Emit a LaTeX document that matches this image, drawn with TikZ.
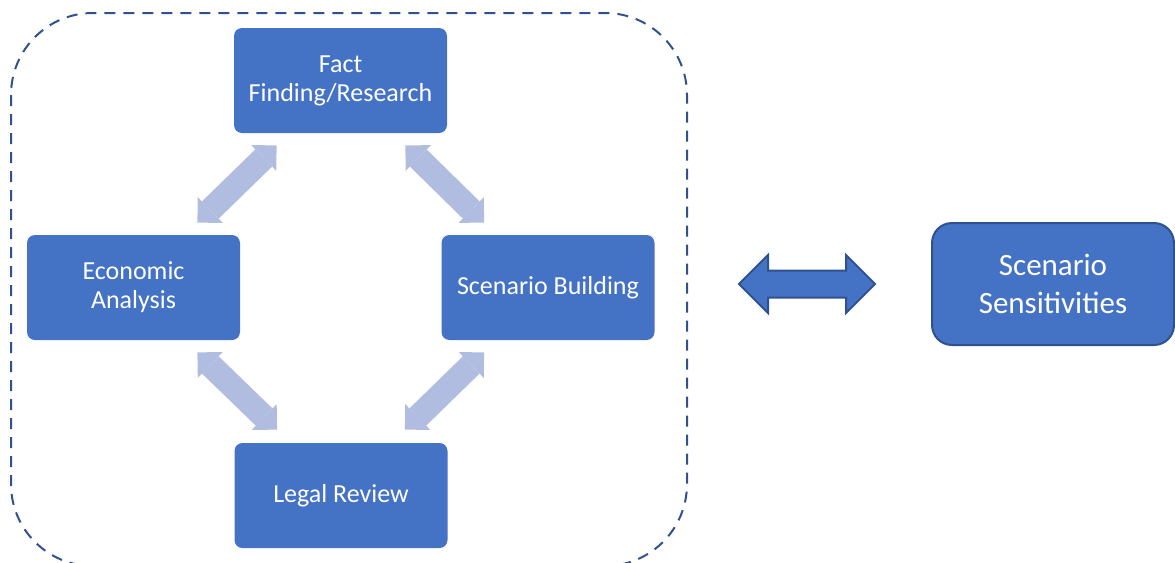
\documentclass[tikz,border=0pt]{standalone}
\usepackage{fontspec}
\setmainfont{Carlito}
\usetikzlibrary{arrows.meta}

\definecolor{boxblue}{HTML}{4472C4}
\definecolor{edgeblue}{HTML}{2F528F}
\definecolor{paleblue}{HTML}{B1BDE0}

\tikzset{
  stage/.style={fill=boxblue, text=white, rounded corners=4pt, inner sep=0pt,
    minimum width=106.5pt, minimum height=52.5pt, align=center,
    font=\fontsize{13}{14.5}\selectfont},
  result/.style={stage, draw=edgeblue, line width=1pt, rounded corners=10pt,
    minimum width=121pt, minimum height=61pt,
    font=\fontsize{15.5}{19}\selectfont},
  pale/.style={paleblue, line width=12pt,
    {Triangle[length=9pt, width=18pt, line width=0pt]}-{Triangle[length=9pt, width=18pt, line width=0pt]}},
  frame/.style={edgeblue, line width=1pt, dash pattern=on 5.5pt off 4pt, rounded corners=41pt},
  link/.style={fill=boxblue, draw=edgeblue, line width=1pt, line join=miter}
}

\begin{document}
\begin{tikzpicture}[x=0.5pt, y=-0.5pt]
  \useasboundingbox (0, 0) rectangle (1175, 563);

  % Process group
  \draw [frame] (11, 13) rectangle (687, 566);

  % Stages
  \node [stage] (fact) at (340.5, 80.5) {Fact\\Finding/Research};
  \node [stage] (econ) at (133.5, 287.5) {Economic\\Analysis};
  \node [stage] (scen) at (548, 287.5) {Scenario Building};
  \node [stage] (legal) at (341, 495.5) {Legal Review};

  % Cycle arrows
  \draw [pale] ([shift={(43, 12)}]fact.south west) -- ([shift={(-43, -12)}]econ.north east);
  \draw [pale] ([shift={(-42, 12)}]fact.south east) -- ([shift={(43, -12)}]scen.north west);
  \draw [pale] ([shift={(-43, 12)}]econ.south east) -- ([shift={(43, -13)}]legal.north west);
  \draw [pale] ([shift={(43, 12)}]scen.south west) -- ([shift={(-43, -13)}]legal.north east);

  % Sensitivities
  \node [result] (sens) at (1053, 284) {Scenario\\Sensitivities};

  % Two-way link
  \coordinate (link) at (807, 284);
  \draw [link, shift={(link)}] (-68, 0) -- (-39, -29) -- (-39, -13.5) -- (39, -13.5)
    -- (39, -29) -- (68, 0) -- (39, 29) -- (39, 13.5) -- (-39, 13.5) -- (-39, 29) -- cycle;
\end{tikzpicture}
\end{document}
